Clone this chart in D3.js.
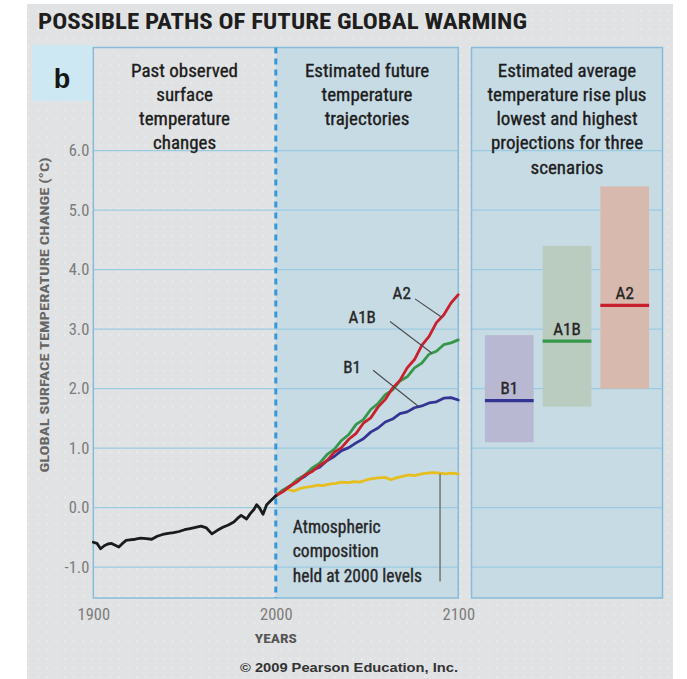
<!DOCTYPE html>
<html>
<head>
<meta charset="utf-8">
<script src="https://cdn.jsdelivr.net/npm/d3@7"></script>
<style>
  html, body { margin: 0; padding: 0; background: #ffffff; }
  svg { display: block; }
  .cond { font-family: "Liberation Sans Narrow", "Roboto Condensed", "Open Sans Condensed", "Arial Narrow", "Liberation Sans", sans-serif; }
  .heavy { stroke: currentColor; stroke-width: 0.35px; }
</style>
</head>
<body>
<svg id="chart" width="687" height="679"></svg>
<script>
// ---- data ----------------------------------------------------------------
const histYears = [1900,1902,1904,1906,1908,1910,1912,1914,1916,1918,1920,1923,1926,1929,1932,1935,1938,1941,1944,1947,1950,1953,1956,1959,1962,1965,1968,1971,1974,1977,1979,1981,1984,1986,1988,1989.5,1991,1993,1995,1998,2000];
const histTemp  = [-0.58,-0.60,-0.69,-0.64,-0.61,-0.60,-0.63,-0.66,-0.60,-0.55,-0.54,-0.53,-0.51,-0.52,-0.53,-0.48,-0.45,-0.43,-0.42,-0.40,-0.37,-0.35,-0.33,-0.31,-0.34,-0.44,-0.38,-0.33,-0.29,-0.24,-0.18,-0.13,-0.19,-0.10,-0.03,0.05,0.00,-0.11,0.05,0.14,0.20];

const futureYears = [2000,2004,2008,2012,2016,2020,2024,2028,2032,2036,2040,2044,2048,2052,2056,2060,2064,2068,2072,2076,2080,2084,2088,2092,2096,2100];
const tempA2  = [0.20,0.27,0.37,0.44,0.55,0.61,0.71,0.79,0.93,1.01,1.15,1.25,1.42,1.51,1.69,1.82,2.01,2.14,2.35,2.49,2.73,2.88,3.11,3.24,3.44,3.58];
const tempA1B = [0.20,0.30,0.37,0.48,0.55,0.67,0.75,0.89,0.98,1.13,1.23,1.40,1.48,1.65,1.75,1.90,1.98,2.13,2.20,2.35,2.43,2.58,2.63,2.74,2.77,2.82];
const tempB1  = [0.20,0.29,0.36,0.46,0.53,0.63,0.68,0.79,0.86,0.96,1.01,1.09,1.16,1.27,1.34,1.44,1.49,1.58,1.61,1.68,1.71,1.76,1.78,1.84,1.85,1.81];

const commitYears = [2000,2003,2006,2010,2013,2016,2020,2023,2026,2030,2033,2036,2040,2043,2046,2050,2053,2056,2060,2063,2066,2070,2073,2076,2080,2083,2086,2090,2093,2096,2100];
const commitTemp  = [0.20,0.28,0.31,0.28,0.32,0.34,0.36,0.38,0.37,0.40,0.41,0.43,0.42,0.44,0.43,0.47,0.49,0.50,0.51,0.47,0.50,0.53,0.55,0.54,0.57,0.58,0.59,0.58,0.57,0.58,0.57];

const scenarios = ["B1","A1B","A2"];
const bestEstimate = [1.8, 2.8, 3.4];
const lowProjection = [1.1, 1.7, 2.0];
const highProjection = [2.9, 4.4, 5.4];

const yTicks = [-1, 0, 1, 2, 3, 4, 5, 6];
const xTicks = [1900, 2000, 2100];

// ---- styling ----------------------------------------------------------------
const colours = { A2: "#c9202e", A1B: "#36974a", B1: "#343492", commit: "#e6be1e", hist: "#1b1b1b" };
const fills   = { A2: "#d8b9ad", A1B: "#bacbbf", B1: "#b9b8d2" };
const gridColour = "#9bcbe2";
const frameColour = "#86bcda";

const svg = d3.select("#chart");

// ---- scales -----------------------------------------------------------------
const x = d3.scaleLinear().domain([1900, 2100]).range([93.3, 458.3]);
const y = d3.scaleLinear().domain([0, 6]).range([507.7, 150.7]);
const panelTop = 47.5, panelBottom = 598;
const p3Left = 471.5, p3Right = 662.5;
const xs = d3.scaleBand().domain(scenarios).range([p3Left, p3Right]).paddingInner(0.155).paddingOuter(0.232);

// ---- background ---------------------------------------------------------------
const defs = svg.append("defs");
const pat = defs.append("pattern").attr("id", "dots").attr("width", 9).attr("height", 9)
  .attr("patternUnits", "userSpaceOnUse");
pat.append("circle").attr("cx", 2).attr("cy", 2).attr("r", 0.8).attr("fill", "#ffffff").attr("opacity", 0.55);

svg.append("rect").attr("x", 27).attr("y", 4).attr("width", 646).attr("height", 675).attr("fill", "#e1e2e3");
svg.append("rect").attr("x", 27).attr("y", 4).attr("width", 646).attr("height", 675).attr("fill", "url(#dots)");

// panel backgrounds
svg.append("rect").attr("x", x(2000)).attr("y", panelTop).attr("width", x(2100) - x(2000)).attr("height", panelBottom - panelTop)
  .attr("fill", "#c7dbe5");
svg.append("rect").attr("x", p3Left).attr("y", panelTop).attr("width", p3Right - p3Left).attr("height", panelBottom - panelTop)
  .attr("fill", "#c7dbe5");

// "b" tag
svg.append("rect").attr("x", 32).attr("y", 45).attr("width", 60).attr("height", 56).attr("fill", "#cde8f3");
svg.append("text").attr("x", 62).attr("y", 88).attr("text-anchor", "middle")
  .attr("font-family", "Liberation Sans, Arial, sans-serif").attr("font-weight", "bold")
  .attr("font-size", 27).attr("fill", "#151515").text("b");

// ---- grid -------------------------------------------------------------------------
const grid = svg.append("g");
yTicks.forEach(t => {
  grid.append("line").attr("x1", x(1900)).attr("x2", x(2100)).attr("y1", y(t)).attr("y2", y(t))
    .attr("stroke", gridColour).attr("stroke-width", 1.2);
  grid.append("line").attr("x1", p3Left).attr("x2", p3Right).attr("y1", y(t)).attr("y2", y(t))
    .attr("stroke", gridColour).attr("stroke-width", 1.2);
});

// panel frames
svg.append("rect").attr("x", x(1900)).attr("y", panelTop).attr("width", x(2100) - x(1900)).attr("height", panelBottom - panelTop)
  .attr("fill", "none").attr("stroke", frameColour).attr("stroke-width", 1.5);
svg.append("rect").attr("x", p3Left).attr("y", panelTop).attr("width", p3Right - p3Left).attr("height", panelBottom - panelTop)
  .attr("fill", "none").attr("stroke", frameColour).attr("stroke-width", 1.5);

// year-2000 divider
svg.append("line").attr("x1", x(2000)).attr("x2", x(2000)).attr("y1", panelTop).attr("y2", panelBottom)
  .attr("stroke", "#3897d6").attr("stroke-width", 3).attr("stroke-dasharray", "6,5");

// ---- scenario range bars ----------------------------------------------------------
const bars = svg.append("g");
scenarios.forEach((s, i) => {
  bars.append("rect").attr("x", xs(s)).attr("width", xs.bandwidth())
    .attr("y", y(highProjection[i])).attr("height", y(lowProjection[i]) - y(highProjection[i]))
    .attr("fill", fills[s]);
  bars.append("line").attr("x1", xs(s)).attr("x2", xs(s) + xs.bandwidth())
    .attr("y1", y(bestEstimate[i])).attr("y2", y(bestEstimate[i]))
    .attr("stroke", colours[s]).attr("stroke-width", 3.2);
  bars.append("text").attr("class", "cond squeeze heavy").attr("x", xs(s) + xs.bandwidth() / 2)
    .attr("y", y(bestEstimate[i]) - 6.5).attr("text-anchor", "middle")
    .attr("font-size", 17).attr("fill", "#262626").attr("color", "#262626").text(s);
});

// ---- temperature paths ------------------------------------------------------------
const line = d3.line().x(d => x(d[0])).y(d => y(d[1]));
function drawSeries(years, vals, colour) {
  svg.append("path").datum(years.map((yr, i) => [yr, vals[i]]))
    .attr("d", line).attr("fill", "none").attr("stroke", colour)
    .attr("stroke-width", 2.8).attr("stroke-linejoin", "round").attr("stroke-linecap", "round");
}
drawSeries(commitYears, commitTemp, colours.commit);
drawSeries(futureYears, tempB1, colours.B1);
drawSeries(futureYears, tempA1B, colours.A1B);
drawSeries(futureYears, tempA2, colours.A2);
drawSeries(histYears, histTemp, colours.hist);

// scenario labels with leader lines
const leaders = [
  { name: "A2",  tx: 2069.0, ty: 3.50, from: [2076.3, 3.51], to: [2090.9, 3.20] },
  { name: "A1B", tx: 2047.3, ty: 3.10, from: [2062.6, 3.13], to: [2085.4, 2.60] },
  { name: "B1",  tx: 2041.8, ty: 2.26, from: [2053.3, 2.31], to: [2077.9, 1.71] }
];
leaders.forEach(l => {
  svg.append("line").attr("x1", x(l.from[0])).attr("y1", y(l.from[1]))
    .attr("x2", x(l.to[0])).attr("y2", y(l.to[1]))
    .attr("stroke", "#4a4a4a").attr("stroke-width", 1.1);
  svg.append("text").attr("class", "cond squeeze heavy").attr("x", x(l.tx)).attr("y", y(l.ty))
    .attr("text-anchor", "middle").attr("font-size", 17).attr("fill", "#262626").attr("color", "#262626").text(l.name);
});

// constant-composition note
svg.append("line").attr("x1", x(2090)).attr("x2", x(2090)).attr("y1", y(0.57)).attr("y2", y(-1.24))
  .attr("stroke", "#7a7a7a").attr("stroke-width", 1.6);
["Atmospheric", "composition", "held at 2000 levels"].forEach((t, i) => {
  svg.append("text").attr("class", "cond squeeze heavy").attr("x", x(2009.3)).attr("y", 533 + i * 24.3)
    .attr("font-size", 17.5).attr("fill", "#262626").attr("color", "#262626").text(t);
});

// ---- axes ------------------------------------------------------------------------
const yAxis = svg.append("g").attr("transform", `translate(${x(1900)},0)`)
  .call(d3.axisLeft(y).tickValues(yTicks).tickFormat(d => d.toFixed(1)).tickSize(0).tickPadding(4));
yAxis.select(".domain").remove();
yAxis.selectAll("text").attr("class", "cond squeeze").attr("font-size", 16.5).attr("fill", "#7c7c7c");

const xAxis = svg.append("g").attr("transform", `translate(0,${panelBottom})`)
  .call(d3.axisBottom(x).tickValues(xTicks).tickFormat(d3.format("d")).tickSize(0).tickPadding(10.5));
xAxis.select(".domain").remove();
xAxis.selectAll("text").attr("class", "cond squeeze").attr("font-size", 16.5).attr("fill", "#7c7c7c");

svg.append("text").attr("class", "cond").attr("transform", `translate(49,315) rotate(-90)`)
  .attr("text-anchor", "middle").attr("font-size", 13).attr("font-weight", "bold").attr("fill", "#666666")
  .attr("textLength", 315).attr("lengthAdjust", "spacingAndGlyphs")
  .text("GLOBAL SURFACE TEMPERATURE CHANGE (°C)");

svg.append("text").attr("class", "cond").attr("x", x(2000)).attr("y", 643).attr("text-anchor", "middle")
  .attr("font-size", 13.5).attr("font-weight", "bold").attr("fill", "#555555")
  .attr("textLength", 42).attr("lengthAdjust", "spacingAndGlyphs").text("YEARS");

// ---- titles ------------------------------------------------------------------------
svg.append("text").attr("class", "cond").attr("x", 38).attr("y", 29)
  .attr("font-size", 22).attr("font-weight", "bold").attr("fill", "#1e1e1e")
  .attr("textLength", 489).attr("lengthAdjust", "spacingAndGlyphs")
  .text("POSSIBLE PATHS OF FUTURE GLOBAL WARMING");

const panelTitles = [
  { cx: (x(1900) + x(2000)) / 2, lines: ["Past observed", "surface", "temperature", "changes"] },
  { cx: (x(2000) + x(2100)) / 2, lines: ["Estimated future", "temperature", "trajectories"] },
  { cx: (p3Left + p3Right) / 2, lines: ["Estimated average", "temperature rise plus", "lowest and highest", "projections for three", "scenarios"] }
];
panelTitles.forEach(p => {
  p.lines.forEach((t, i) => {
    svg.append("text").attr("class", "cond squeeze heavy").attr("x", p.cx).attr("y", 76.5 + i * 24.3)
      .attr("text-anchor", "middle").attr("font-size", 19).attr("fill", "#1c1c1c").attr("color", "#1c1c1c").text(t);
  });
});

svg.append("text").attr("x", 349).attr("y", 672).attr("text-anchor", "middle")
  .attr("font-family", "Liberation Sans, Arial, sans-serif").attr("font-weight", "bold")
  .attr("font-size", 12).attr("fill", "#333333")
  .attr("textLength", 218).attr("lengthAdjust", "spacingAndGlyphs")
  .text("© 2009 Pearson Education, Inc.");

// narrow the condensed-style labels if the available face is wider than intended
const probe = svg.append("text").attr("class", "cond").attr("font-size", 19).text("Estimated future");
const ratio = 131 / probe.node().getComputedTextLength();
probe.remove();
if (ratio < 0.97) {
  svg.selectAll(".squeeze").each(function () {
    const w = this.getComputedTextLength();
    d3.select(this).attr("textLength", w * ratio).attr("lengthAdjust", "spacingAndGlyphs");
  });
}
</script>
</body>
</html>
